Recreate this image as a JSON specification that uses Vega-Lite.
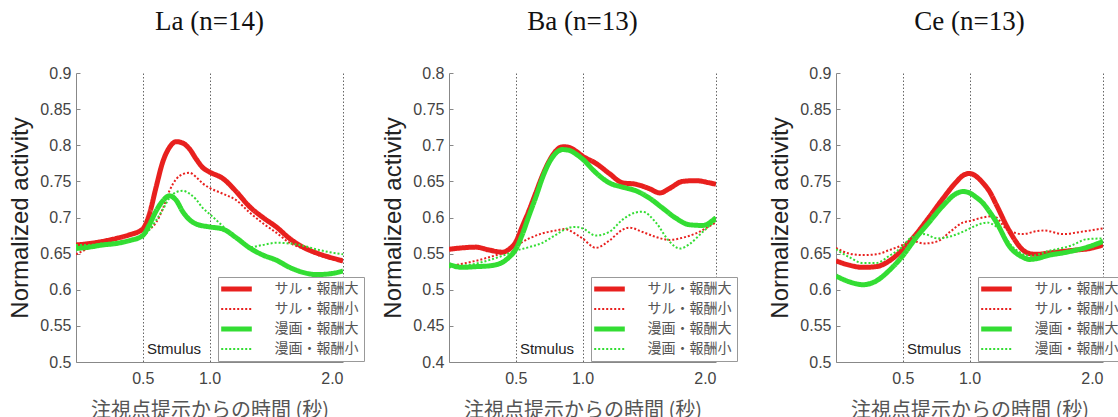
{
  "$schema": "https://vega.github.io/schema/vega-lite/v6.json",
  "padding": {"left": 8, "top": 8, "right": 0, "bottom": 0},
  "bounds": "flush",
  "spacing": 0,
  "datasets": {
    "La": [
      {"s":"サル・報酬大","t":0,"v":0.662},{"s":"サル・報酬大","t":0.1,"v":0.664},{"s":"サル・報酬大","t":0.2,"v":0.667},{"s":"サル・報酬大","t":0.3,"v":0.671},{"s":"サル・報酬大","t":0.4,"v":0.676},{"s":"サル・報酬大","t":0.5,"v":0.684},{"s":"サル・報酬大","t":0.55,"v":0.705},{"s":"サル・報酬大","t":0.6,"v":0.742},{"s":"サル・報酬大","t":0.65,"v":0.777},{"s":"サル・報酬大","t":0.7,"v":0.797},{"s":"サル・報酬大","t":0.75,"v":0.805},{"s":"サル・報酬大","t":0.8,"v":0.803},{"s":"サル・報酬大","t":0.85,"v":0.795},{"s":"サル・報酬大","t":0.9,"v":0.781},{"s":"サル・報酬大","t":0.95,"v":0.769},{"s":"サル・報酬大","t":1.0,"v":0.763},{"s":"サル・報酬大","t":1.1,"v":0.754},{"s":"サル・報酬大","t":1.2,"v":0.736},{"s":"サル・報酬大","t":1.3,"v":0.715},{"s":"サル・報酬大","t":1.4,"v":0.700},{"s":"サル・報酬大","t":1.5,"v":0.687},{"s":"サル・報酬大","t":1.6,"v":0.671},{"s":"サル・報酬大","t":1.7,"v":0.659},{"s":"サル・報酬大","t":1.8,"v":0.651},{"s":"サル・報酬大","t":1.9,"v":0.645},{"s":"サル・報酬大","t":2.0,"v":0.640},
      {"s":"サル・報酬小","t":0,"v":0.649},{"s":"サル・報酬小","t":0.1,"v":0.658},{"s":"サル・報酬小","t":0.2,"v":0.666},{"s":"サル・報酬小","t":0.3,"v":0.672},{"s":"サル・報酬小","t":0.4,"v":0.677},{"s":"サル・報酬小","t":0.5,"v":0.681},{"s":"サル・報酬小","t":0.55,"v":0.684},{"s":"サル・報酬小","t":0.6,"v":0.693},{"s":"サル・報酬小","t":0.65,"v":0.712},{"s":"サル・報酬小","t":0.7,"v":0.737},{"s":"サル・報酬小","t":0.75,"v":0.753},{"s":"サル・報酬小","t":0.8,"v":0.760},{"s":"サル・報酬小","t":0.85,"v":0.762},{"s":"サル・報酬小","t":0.9,"v":0.756},{"s":"サル・報酬小","t":0.95,"v":0.747},{"s":"サル・報酬小","t":1.0,"v":0.741},{"s":"サル・報酬小","t":1.1,"v":0.733},{"s":"サル・報酬小","t":1.2,"v":0.724},{"s":"サル・報酬小","t":1.3,"v":0.707},{"s":"サル・報酬小","t":1.4,"v":0.692},{"s":"サル・報酬小","t":1.5,"v":0.679},{"s":"サル・報酬小","t":1.6,"v":0.665},{"s":"サル・報酬小","t":1.7,"v":0.657},{"s":"サル・報酬小","t":1.8,"v":0.649},{"s":"サル・報酬小","t":1.9,"v":0.643},{"s":"サル・報酬小","t":2.0,"v":0.638},
      {"s":"漫画・報酬大","t":0,"v":0.657},{"s":"漫画・報酬大","t":0.1,"v":0.659},{"s":"漫画・報酬大","t":0.2,"v":0.662},{"s":"漫画・報酬大","t":0.3,"v":0.664},{"s":"漫画・報酬大","t":0.4,"v":0.668},{"s":"漫画・報酬大","t":0.5,"v":0.675},{"s":"漫画・報酬大","t":0.55,"v":0.690},{"s":"漫画・報酬大","t":0.6,"v":0.709},{"s":"漫画・報酬大","t":0.65,"v":0.723},{"s":"漫画・報酬大","t":0.7,"v":0.730},{"s":"漫画・報酬大","t":0.75,"v":0.724},{"s":"漫画・報酬大","t":0.8,"v":0.708},{"s":"漫画・報酬大","t":0.85,"v":0.697},{"s":"漫画・報酬大","t":0.9,"v":0.691},{"s":"漫画・報酬大","t":1.0,"v":0.687},{"s":"漫画・報酬大","t":1.1,"v":0.684},{"s":"漫画・報酬大","t":1.2,"v":0.672},{"s":"漫画・報酬大","t":1.3,"v":0.658},{"s":"漫画・報酬大","t":1.4,"v":0.648},{"s":"漫画・報酬大","t":1.5,"v":0.641},{"s":"漫画・報酬大","t":1.6,"v":0.631},{"s":"漫画・報酬大","t":1.7,"v":0.624},{"s":"漫画・報酬大","t":1.8,"v":0.621},{"s":"漫画・報酬大","t":1.9,"v":0.622},{"s":"漫画・報酬大","t":2.0,"v":0.626},
      {"s":"漫画・報酬小","t":0,"v":0.662},{"s":"漫画・報酬小","t":0.1,"v":0.662},{"s":"漫画・報酬小","t":0.2,"v":0.664},{"s":"漫画・報酬小","t":0.3,"v":0.666},{"s":"漫画・報酬小","t":0.4,"v":0.669},{"s":"漫画・報酬小","t":0.5,"v":0.674},{"s":"漫画・報酬小","t":0.55,"v":0.683},{"s":"漫画・報酬小","t":0.6,"v":0.696},{"s":"漫画・報酬小","t":0.65,"v":0.711},{"s":"漫画・報酬小","t":0.7,"v":0.727},{"s":"漫画・報酬小","t":0.75,"v":0.735},{"s":"漫画・報酬小","t":0.8,"v":0.737},{"s":"漫画・報酬小","t":0.85,"v":0.733},{"s":"漫画・報酬小","t":0.9,"v":0.725},{"s":"漫画・報酬小","t":0.95,"v":0.713},{"s":"漫画・報酬小","t":1.0,"v":0.705},{"s":"漫画・報酬小","t":1.1,"v":0.688},{"s":"漫画・報酬小","t":1.2,"v":0.672},{"s":"漫画・報酬小","t":1.3,"v":0.659},{"s":"漫画・報酬小","t":1.4,"v":0.662},{"s":"漫画・報酬小","t":1.5,"v":0.665},{"s":"漫画・報酬小","t":1.6,"v":0.664},{"s":"漫画・報酬小","t":1.7,"v":0.661},{"s":"漫画・報酬小","t":1.8,"v":0.656},{"s":"漫画・報酬小","t":1.9,"v":0.652},{"s":"漫画・報酬小","t":2.0,"v":0.649}
    ],
    "Ba": [
      {"s":"サル・報酬大","t":0,"v":0.556},{"s":"サル・報酬大","t":0.1,"v":0.558},{"s":"サル・報酬大","t":0.2,"v":0.559},{"s":"サル・報酬大","t":0.3,"v":0.555},{"s":"サル・報酬大","t":0.4,"v":0.552},{"s":"サル・報酬大","t":0.45,"v":0.556},{"s":"サル・報酬大","t":0.5,"v":0.566},{"s":"サル・報酬大","t":0.55,"v":0.588},{"s":"サル・報酬大","t":0.6,"v":0.610},{"s":"サル・報酬大","t":0.65,"v":0.634},{"s":"サル・報酬大","t":0.7,"v":0.658},{"s":"サル・報酬大","t":0.75,"v":0.678},{"s":"サル・報酬大","t":0.8,"v":0.692},{"s":"サル・報酬大","t":0.85,"v":0.698},{"s":"サル・報酬大","t":0.9,"v":0.697},{"s":"サル・報酬大","t":0.95,"v":0.692},{"s":"サル・報酬大","t":1.0,"v":0.685},{"s":"サル・報酬大","t":1.1,"v":0.675},{"s":"サル・報酬大","t":1.2,"v":0.661},{"s":"サル・報酬大","t":1.3,"v":0.648},{"s":"サル・報酬大","t":1.4,"v":0.646},{"s":"サル・報酬大","t":1.5,"v":0.640},{"s":"サル・報酬大","t":1.58,"v":0.634},{"s":"サル・報酬大","t":1.65,"v":0.640},{"s":"サル・報酬大","t":1.75,"v":0.650},{"s":"サル・報酬大","t":1.85,"v":0.651},{"s":"サル・報酬大","t":1.95,"v":0.648},{"s":"サル・報酬大","t":2.0,"v":0.646},
      {"s":"サル・報酬小","t":0,"v":0.533},{"s":"サル・報酬小","t":0.1,"v":0.536},{"s":"サル・報酬小","t":0.2,"v":0.540},{"s":"サル・報酬小","t":0.3,"v":0.545},{"s":"サル・報酬小","t":0.4,"v":0.551},{"s":"サル・報酬小","t":0.5,"v":0.561},{"s":"サル・報酬小","t":0.6,"v":0.571},{"s":"サル・報酬小","t":0.7,"v":0.578},{"s":"サル・報酬小","t":0.8,"v":0.582},{"s":"サル・報酬小","t":0.87,"v":0.584},{"s":"サル・報酬小","t":0.95,"v":0.577},{"s":"サル・報酬小","t":1.0,"v":0.571},{"s":"サル・報酬小","t":1.1,"v":0.558},{"s":"サル・報酬小","t":1.2,"v":0.568},{"s":"サル・報酬小","t":1.3,"v":0.583},{"s":"サル・報酬小","t":1.35,"v":0.586},{"s":"サル・報酬小","t":1.45,"v":0.580},{"s":"サル・報酬小","t":1.55,"v":0.573},{"s":"サル・報酬小","t":1.65,"v":0.569},{"s":"サル・報酬小","t":1.75,"v":0.572},{"s":"サル・報酬小","t":1.85,"v":0.578},{"s":"サル・報酬小","t":1.95,"v":0.588},{"s":"サル・報酬小","t":2.0,"v":0.593},
      {"s":"漫画・報酬大","t":0,"v":0.535},{"s":"漫画・報酬大","t":0.1,"v":0.531},{"s":"漫画・報酬大","t":0.2,"v":0.532},{"s":"漫画・報酬大","t":0.3,"v":0.533},{"s":"漫画・報酬大","t":0.4,"v":0.538},{"s":"漫画・報酬大","t":0.45,"v":0.545},{"s":"漫画・報酬大","t":0.5,"v":0.556},{"s":"漫画・報酬大","t":0.55,"v":0.577},{"s":"漫画・報酬大","t":0.6,"v":0.603},{"s":"漫画・報酬大","t":0.65,"v":0.628},{"s":"漫画・報酬大","t":0.7,"v":0.655},{"s":"漫画・報酬大","t":0.75,"v":0.676},{"s":"漫画・報酬大","t":0.8,"v":0.689},{"s":"漫画・報酬大","t":0.85,"v":0.694},{"s":"漫画・報酬大","t":0.9,"v":0.693},{"s":"漫画・報酬大","t":0.95,"v":0.688},{"s":"漫画・報酬大","t":1.0,"v":0.681},{"s":"漫画・報酬大","t":1.1,"v":0.662},{"s":"漫画・報酬大","t":1.2,"v":0.648},{"s":"漫画・報酬大","t":1.3,"v":0.642},{"s":"漫画・報酬大","t":1.4,"v":0.637},{"s":"漫画・報酬大","t":1.5,"v":0.627},{"s":"漫画・報酬大","t":1.6,"v":0.613},{"s":"漫画・報酬大","t":1.7,"v":0.599},{"s":"漫画・報酬大","t":1.8,"v":0.590},{"s":"漫画・報酬大","t":1.9,"v":0.589},{"s":"漫画・報酬大","t":2.0,"v":0.600},
      {"s":"漫画・報酬小","t":0,"v":0.531},{"s":"漫画・報酬小","t":0.1,"v":0.533},{"s":"漫画・報酬小","t":0.2,"v":0.536},{"s":"漫画・報酬小","t":0.3,"v":0.541},{"s":"漫画・報酬小","t":0.4,"v":0.547},{"s":"漫画・報酬小","t":0.5,"v":0.554},{"s":"漫画・報酬小","t":0.6,"v":0.559},{"s":"漫画・報酬小","t":0.7,"v":0.565},{"s":"漫画・報酬小","t":0.8,"v":0.576},{"s":"漫画・報酬小","t":0.9,"v":0.586},{"s":"漫画・報酬小","t":0.95,"v":0.587},{"s":"漫画・報酬小","t":1.0,"v":0.585},{"s":"漫画・報酬小","t":1.1,"v":0.575},{"s":"漫画・報酬小","t":1.2,"v":0.580},{"s":"漫画・報酬小","t":1.3,"v":0.597},{"s":"漫画・報酬小","t":1.4,"v":0.607},{"s":"漫画・報酬小","t":1.45,"v":0.608},{"s":"漫画・報酬小","t":1.55,"v":0.593},{"s":"漫画・報酬小","t":1.65,"v":0.567},{"s":"漫画・報酬小","t":1.73,"v":0.557},{"s":"漫画・報酬小","t":1.8,"v":0.563},{"s":"漫画・報酬小","t":1.9,"v":0.580},{"s":"漫画・報酬小","t":2.0,"v":0.596}
    ],
    "Ce": [
      {"s":"サル・報酬大","t":0,"v":0.640},{"s":"サル・報酬大","t":0.1,"v":0.634},{"s":"サル・報酬大","t":0.2,"v":0.631},{"s":"サル・報酬大","t":0.3,"v":0.632},{"s":"サル・報酬大","t":0.4,"v":0.640},{"s":"サル・報酬大","t":0.5,"v":0.656},{"s":"サル・報酬大","t":0.6,"v":0.677},{"s":"サル・報酬大","t":0.7,"v":0.701},{"s":"サル・報酬大","t":0.8,"v":0.726},{"s":"サル・報酬大","t":0.9,"v":0.749},{"s":"サル・報酬大","t":0.95,"v":0.758},{"s":"サル・報酬大","t":1.0,"v":0.761},{"s":"サル・報酬大","t":1.05,"v":0.757},{"s":"サル・報酬大","t":1.1,"v":0.748},{"s":"サル・報酬大","t":1.15,"v":0.736},{"s":"サル・報酬大","t":1.2,"v":0.718},{"s":"サル・報酬大","t":1.3,"v":0.681},{"s":"サル・報酬大","t":1.4,"v":0.655},{"s":"サル・報酬大","t":1.45,"v":0.650},{"s":"サル・報酬大","t":1.5,"v":0.649},{"s":"サル・報酬大","t":1.6,"v":0.651},{"s":"サル・報酬大","t":1.7,"v":0.653},{"s":"サル・報酬大","t":1.8,"v":0.655},{"s":"サル・報酬大","t":1.9,"v":0.657},{"s":"サル・報酬大","t":2.0,"v":0.662},
      {"s":"サル・報酬小","t":0,"v":0.658},{"s":"サル・報酬小","t":0.1,"v":0.650},{"s":"サル・報酬小","t":0.2,"v":0.648},{"s":"サル・報酬小","t":0.3,"v":0.649},{"s":"サル・報酬小","t":0.4,"v":0.655},{"s":"サル・報酬小","t":0.5,"v":0.662},{"s":"サル・報酬小","t":0.56,"v":0.668},{"s":"サル・報酬小","t":0.66,"v":0.664},{"s":"サル・報酬小","t":0.76,"v":0.667},{"s":"サル・報酬小","t":0.86,"v":0.681},{"s":"サル・報酬小","t":0.95,"v":0.693},{"s":"サル・報酬小","t":1.0,"v":0.695},{"s":"サル・報酬小","t":1.1,"v":0.700},{"s":"サル・報酬小","t":1.18,"v":0.702},{"s":"サル・報酬小","t":1.28,"v":0.684},{"s":"サル・報酬小","t":1.4,"v":0.677},{"s":"サル・報酬小","t":1.5,"v":0.681},{"s":"サル・報酬小","t":1.56,"v":0.682},{"s":"サル・報酬小","t":1.7,"v":0.677},{"s":"サル・報酬小","t":1.83,"v":0.680},{"s":"サル・報酬小","t":2.0,"v":0.685},
      {"s":"漫画・報酬大","t":0,"v":0.619},{"s":"漫画・報酬大","t":0.1,"v":0.611},{"s":"漫画・報酬大","t":0.2,"v":0.607},{"s":"漫画・報酬大","t":0.3,"v":0.612},{"s":"漫画・報酬大","t":0.4,"v":0.627},{"s":"漫画・報酬大","t":0.5,"v":0.647},{"s":"漫画・報酬大","t":0.6,"v":0.672},{"s":"漫画・報酬大","t":0.7,"v":0.694},{"s":"漫画・報酬大","t":0.8,"v":0.716},{"s":"漫画・報酬大","t":0.9,"v":0.733},{"s":"漫画・報酬大","t":0.95,"v":0.736},{"s":"漫画・報酬大","t":1.0,"v":0.734},{"s":"漫画・報酬大","t":1.05,"v":0.728},{"s":"漫画・報酬大","t":1.1,"v":0.720},{"s":"漫画・報酬大","t":1.15,"v":0.708},{"s":"漫画・報酬大","t":1.2,"v":0.694},{"s":"漫画・報酬大","t":1.3,"v":0.660},{"s":"漫画・報酬大","t":1.4,"v":0.645},{"s":"漫画・報酬大","t":1.45,"v":0.642},{"s":"漫画・報酬大","t":1.5,"v":0.643},{"s":"漫画・報酬大","t":1.6,"v":0.648},{"s":"漫画・報酬大","t":1.7,"v":0.651},{"s":"漫画・報酬大","t":1.8,"v":0.655},{"s":"漫画・報酬大","t":1.9,"v":0.660},{"s":"漫画・報酬大","t":2.0,"v":0.667},
      {"s":"漫画・報酬小","t":0,"v":0.656},{"s":"漫画・報酬小","t":0.1,"v":0.645},{"s":"漫画・報酬小","t":0.2,"v":0.637},{"s":"漫画・報酬小","t":0.3,"v":0.637},{"s":"漫画・報酬小","t":0.4,"v":0.647},{"s":"漫画・報酬小","t":0.5,"v":0.660},{"s":"漫画・報酬小","t":0.56,"v":0.672},{"s":"漫画・報酬小","t":0.66,"v":0.677},{"s":"漫画・報酬小","t":0.76,"v":0.671},{"s":"漫画・報酬小","t":0.86,"v":0.674},{"s":"漫画・報酬小","t":0.96,"v":0.681},{"s":"漫画・報酬小","t":1.05,"v":0.689},{"s":"漫画・報酬小","t":1.13,"v":0.693},{"s":"漫画・報酬小","t":1.21,"v":0.686},{"s":"漫画・報酬小","t":1.33,"v":0.658},{"s":"漫画・報酬小","t":1.46,"v":0.647},{"s":"漫画・報酬小","t":1.6,"v":0.654},{"s":"漫画・報酬小","t":1.76,"v":0.661},{"s":"漫画・報酬小","t":1.88,"v":0.670},{"s":"漫画・報酬小","t":2.0,"v":0.671}
    ]
  },
  "hconcat": [
    {
      "width": 267, "height": 289,
      "title": "La (n=14)",
      "layer": [
        {
          "data": {"name": "La"},
          "mark": {"type": "line", "interpolate": "monotone", "clip": true},
          "encoding": {
            "x": {"field": "t", "type": "quantitative", "scale": {"domain": [0, 2], "nice": false}, "axis": {"values": [0.5, 1, 2], "format": ".1f", "title": "注視点提示からの時間 (秒)"}},
            "y": {"field": "v", "type": "quantitative", "scale": {"domain": [0.5, 0.9], "nice": false, "zero": false}, "axis": {"values": [0.5, 0.55, 0.6, 0.65, 0.7, 0.75, 0.8, 0.85, 0.9], "tickCount": 20, "format": ".2~f", "labelOverlap": false, "title": "Normalized activity"}},
            "color": {"field": "s", "type": "nominal", "scale": {"domain": ["サル・報酬大", "サル・報酬小", "漫画・報酬大", "漫画・報酬小"], "range": ["#e8201e", "#e8201e", "#33dd33", "#33dd33"]}, "legend": {"orient": "none", "legendX": 142, "legendY": 204, "title": null}},
            "strokeDash": {"field": "s", "type": "nominal", "scale": {"domain": ["サル・報酬大", "サル・報酬小", "漫画・報酬大", "漫画・報酬小"], "range": [[1, 0], [2, 2], [1, 0], [2, 2]]}, "legend": {"orient": "none", "legendX": 142, "legendY": 204, "title": null}},
            "strokeWidth": {"field": "s", "type": "nominal", "scale": {"type": "ordinal", "domain": ["サル・報酬大", "サル・報酬小", "漫画・報酬大", "漫画・報酬小"], "range": [5, 2, 5, 2]}, "legend": {"orient": "none", "legendX": 142, "legendY": 204, "title": null}}
          }
        },
        {
          "data": {"values": [{}]},
          "mark": {"type": "text", "text": "Stmulus", "fontSize": 15, "color": "#222", "font": "Liberation Sans"},
          "encoding": {"x": {"datum": 0.734}, "y": {"datum": 0.5176}}
        }
      ]
    },
    {"width": 106, "height": 289, "data": {"values": []}, "mark": "point"},
    {
      "width": 267, "height": 289,
      "title": "Ba (n=13)",
      "layer": [
        {
          "data": {"name": "Ba"},
          "mark": {"type": "line", "interpolate": "monotone", "clip": true},
          "encoding": {
            "x": {"field": "t", "type": "quantitative", "scale": {"domain": [0, 2], "nice": false}, "axis": {"values": [0.5, 1, 2], "format": ".1f", "title": "注視点提示からの時間 (秒)"}},
            "y": {"field": "v", "type": "quantitative", "scale": {"domain": [0.4, 0.8], "nice": false, "zero": false}, "axis": {"values": [0.4, 0.45, 0.5, 0.55, 0.6, 0.65, 0.7, 0.75, 0.8], "tickCount": 20, "format": ".2~f", "labelOverlap": false, "title": "Normalized activity"}},
            "color": {"field": "s", "type": "nominal", "scale": {"domain": ["サル・報酬大", "サル・報酬小", "漫画・報酬大", "漫画・報酬小"], "range": ["#e8201e", "#e8201e", "#33dd33", "#33dd33"]}, "legend": {"orient": "none", "legendX": 142, "legendY": 204, "title": null}},
            "strokeDash": {"field": "s", "type": "nominal", "scale": {"domain": ["サル・報酬大", "サル・報酬小", "漫画・報酬大", "漫画・報酬小"], "range": [[1, 0], [2, 2], [1, 0], [2, 2]]}, "legend": {"orient": "none", "legendX": 142, "legendY": 204, "title": null}},
            "strokeWidth": {"field": "s", "type": "nominal", "scale": {"type": "ordinal", "domain": ["サル・報酬大", "サル・報酬小", "漫画・報酬大", "漫画・報酬小"], "range": [5, 2, 5, 2]}, "legend": {"orient": "none", "legendX": 142, "legendY": 204, "title": null}}
          }
        },
        {
          "data": {"values": [{}]},
          "mark": {"type": "text", "text": "Stmulus", "fontSize": 15, "color": "#222", "font": "Liberation Sans"},
          "encoding": {"x": {"datum": 0.734}, "y": {"datum": 0.4176}}
        }
      ]
    },
    {"width": 120, "height": 289, "data": {"values": []}, "mark": "point"},
    {
      "width": 267, "height": 289,
      "title": "Ce (n=13)",
      "layer": [
        {
          "data": {"name": "Ce"},
          "mark": {"type": "line", "interpolate": "monotone", "clip": true},
          "encoding": {
            "x": {"field": "t", "type": "quantitative", "scale": {"domain": [0, 2], "nice": false}, "axis": {"values": [0.5, 1, 2], "format": ".1f", "title": "注視点提示からの時間 (秒)"}},
            "y": {"field": "v", "type": "quantitative", "scale": {"domain": [0.5, 0.9], "nice": false, "zero": false}, "axis": {"values": [0.5, 0.55, 0.6, 0.65, 0.7, 0.75, 0.8, 0.85, 0.9], "tickCount": 20, "format": ".2~f", "labelOverlap": false, "title": "Normalized activity"}},
            "color": {"field": "s", "type": "nominal", "scale": {"domain": ["サル・報酬大", "サル・報酬小", "漫画・報酬大", "漫画・報酬小"], "range": ["#e8201e", "#e8201e", "#33dd33", "#33dd33"]}, "legend": {"orient": "none", "legendX": 142, "legendY": 204, "title": null}},
            "strokeDash": {"field": "s", "type": "nominal", "scale": {"domain": ["サル・報酬大", "サル・報酬小", "漫画・報酬大", "漫画・報酬小"], "range": [[1, 0], [2, 2], [1, 0], [2, 2]]}, "legend": {"orient": "none", "legendX": 142, "legendY": 204, "title": null}},
            "strokeWidth": {"field": "s", "type": "nominal", "scale": {"type": "ordinal", "domain": ["サル・報酬大", "サル・報酬小", "漫画・報酬大", "漫画・報酬小"], "range": [5, 2, 5, 2]}, "legend": {"orient": "none", "legendX": 142, "legendY": 204, "title": null}}
          }
        },
        {
          "data": {"values": [{}]},
          "mark": {"type": "text", "text": "Stmulus", "fontSize": 15, "color": "#222", "font": "Liberation Sans"},
          "encoding": {"x": {"datum": 0.734}, "y": {"datum": 0.5176}}
        }
      ]
    }
  ],
  "resolve": {
    "scale": {"color": "independent", "strokeDash": "independent", "strokeWidth": "independent"},
    "legend": {"color": "independent", "strokeDash": "independent", "strokeWidth": "independent"}
  },
  "config": {
    "view": {"stroke": null},
    "font": "Liberation Sans",
    "title": {"font": "Liberation Serif", "fontSize": 27, "fontWeight": "normal", "color": "#111", "offset": 29, "anchor": "middle"},
    "axis": {"domainColor": "#888", "labelFont": "Liberation Sans", "labelFontSize": 16, "labelColor": "#444", "titleFontWeight": "normal"},
    "axisX": {"grid": true, "gridDash": [1.5, 2], "gridColor": "#666", "gridWidth": 1, "ticks": false, "labelPadding": 8, "titleFont": "Noto Sans CJK JP", "titleFontSize": 20, "titleColor": "#555", "titlePadding": 14},
    "axisY": {"grid": false, "tickSize": -4, "tickColor": "#888", "labelPadding": 9, "titleFont": "Liberation Sans", "titleFontSize": 24, "titleColor": "#222", "titlePadding": 7},
    "legend": {"columns": 1, "symbolType": "M-3.4,0H3.4", "symbolSize": 81, "symbolOffset": 6.5, "labelFont": "Noto Sans CJK JP", "labelFontSize": 14, "labelColor": "#555", "fillColor": "white", "strokeColor": "#999", "padding": 5, "rowPadding": 3, "labelOffset": 31, "labelLimit": 300}
  }
}
